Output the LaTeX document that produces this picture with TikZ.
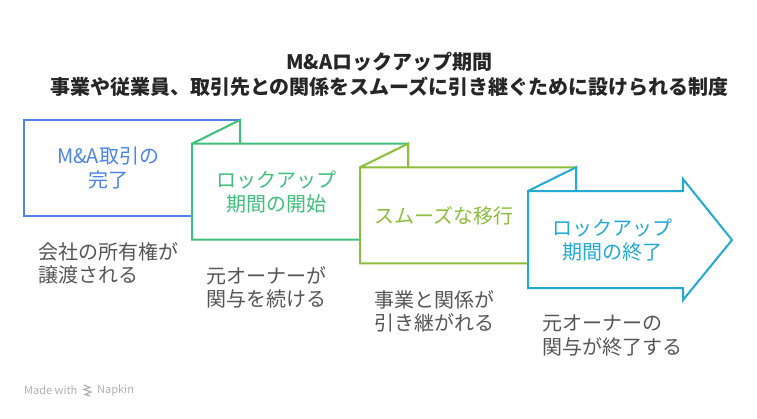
\documentclass[tikz,border=0pt]{standalone}
\usepackage{fontspec}
\setmainfont{Noto Sans CJK JP}
\usetikzlibrary{positioning}

\definecolor{stepblue}{HTML}{4C85E6}
\definecolor{stepgreen}{HTML}{3EBF7C}
\definecolor{steplime}{HTML}{8CBD3C}
\definecolor{stepcyan}{HTML}{22A9D6}
\definecolor{notegray}{HTML}{555555}
\definecolor{footgray}{HTML}{B0B0B0}

\begin{document}
\begin{tikzpicture}[x=1pt,y=-1pt,line join=miter,
    flow box/.style={draw=#1,fill=white,line width=2pt},
    box label/.style={align=center,inner sep=0pt,text=#1,font=\fontsize{20}{24}\selectfont},
    note/.style={align=left,anchor=west,inner sep=0pt,text=notegray,font=\fontsize{20}{23.5}\selectfont},
    foot/.style={anchor=west,inner sep=0pt,text=footgray,font=\fontsize{11}{13}\selectfont}]

  \useasboundingbox (0,0) rectangle (757,418);

  % title
  \node[align=center,font=\bfseries\fontsize{20}{25}\selectfont,text=black!85] (title) at (389.5,74.5)
    {M\&Aロックアップ期間\\事業や従業員、取引先との関係をスムーズに引き継ぐために設けられる制度};

  % the four steps, each one folded over the one before
  \draw[flow box=stepblue] (24,120) rectangle (240,216);
  \draw[flow box=stepgreen] (192,143.7) rectangle (408,239.7)
    (192,143.7) -- (240,120) -- (240,143.7);
  \draw[flow box=steplime] (360,167.3) rectangle (576,263.3)
    (360,167.3) -- (408,143.7) -- (408,167.3);
  \draw[flow box=stepcyan] (528,191) -- (683,191) -- (683,179) -- (732,240) -- (683,300)
    -- (683,288) -- (528,288) -- cycle
    (528,191) -- (576,167.3) -- (576,191);

  \node[box label=stepblue] (1) at (108,168) {M\&A取引の\\完了};
  \node[box label=stepgreen] (2) at (276,192) {ロックアップ\\期間の開始};
  \node[box label=steplime] (3) at (444,216) {スムーズな移行};
  \node[box label=stepcyan] (4) at (612,240) {ロックアップ\\期間の終了};

  \node[note] (d1) at (38,263.5) {会社の所有権が\\譲渡される};
  \node[note] (d2) at (206,287.5) {元オーナーが\\関与を続ける};
  \node[note] (d3) at (374,311.5) {事業と関係が\\引き継がれる};
  \node[note] (d4) at (542,335.5) {元オーナーの\\関与が終了する};

  % footer
  \node[foot] (made) at (24,390.5) {Made with};
  \node[foot] (napkin) at (97,390.5) {Napkin};
  \draw[footgray,line width=1.2pt] (84,385) -- (90,387.5) -- (84,389.5) -- (91,392) -- (85,394.5) -- (90,396);

\end{tikzpicture}
\end{document}
